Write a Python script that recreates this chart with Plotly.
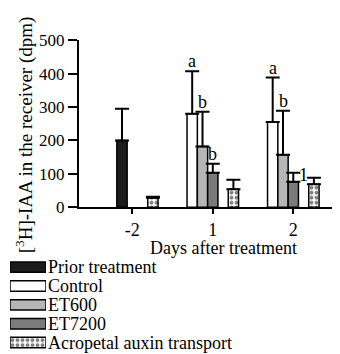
import plotly.graph_objects as go

# ---------------- data ----------------
days = ["-2", "1", "2"]
day_index = [0, 1, 2]

series_names = ["Prior treatment", "Control", "ET600", "ET7200", "Acropetal auxin transport"]

prior = [200, None, None]
prior_err = [95, None, None]

control = [None, 280, 255]
control_err = [None, 127, 133]
control_letters = ["", "a", "a"]

et600 = [None, 182, 157]
et600_err = [None, 104, 132]
et600_letters = ["", "b", "b"]

et7200 = [None, 103, 76]
et7200_err = [None, 27, 27]
et7200_letters = ["", "b", "1"]
et7200_letter_side = ["top", "top", "right"]

acro = [28, 54, 69]
acro_err = [3, 28, 19]

y_ticks = [0, 100, 200, 300, 400, 500]

# ---------------- styling ----------------
FONT = "Liberation Serif"
W, H = 340, 354
slot_w = 0.128          # bar width in category units
colors = {
    "Prior treatment": "#1c1c1c",
    "Control": "#ffffff",
    "ET600": "#b6b6b6",
    "ET7200": "#7b7b7b",
    "Acropetal auxin transport": "#ffffff",
}
slots = {"Prior treatment": 1, "Control": 0, "ET600": 1, "ET7200": 2,
         "Acropetal auxin transport": 4}
pattern_acro = dict(shape=".", fgcolor="black", bgcolor="white", size=5, solidity=0.45)

fig = go.Figure()

def add_series(name, vals, errs):
    off = (slots[name] - 2) * slot_w - slot_w / 2
    marker = dict(color=colors[name], line=dict(color="black", width=1.5))
    if name == "Acropetal auxin transport":
        marker["pattern"] = pattern_acro
    fig.add_trace(go.Bar(
        x=day_index, y=vals, name=name, width=slot_w, offset=off,
        marker=marker, showlegend=False,
        error_y=dict(type="data", array=errs, symmetric=False,
                     arrayminus=[0] * len(errs), color="black",
                     thickness=2, width=7),
        xaxis="x", yaxis="y",
    ))

add_series("Prior treatment", prior, prior_err)
add_series("Control", control, control_err)
add_series("ET600", et600, et600_err)
add_series("ET7200", et7200, et7200_err)
add_series("Acropetal auxin transport", acro, acro_err)

# significance letters
def add_letters(name, vals, errs, letters, sides=None):
    for i, (v, e, l) in enumerate(zip(vals, errs, letters)):
        if not l:
            continue
        side = sides[i] if sides else "top"
        xc = day_index[i] + (slots[name] - 2) * slot_w
        if side == "top":
            fig.add_annotation(x=xc, y=v + e, xref="x", yref="y", text=l,
                               showarrow=False, yanchor="bottom", xanchor="center",
                               yshift=-2, font=dict(family=FONT, size=18, color="black"))
        else:
            fig.add_annotation(x=xc, y=v + e, xref="x", yref="y", text=l,
                               showarrow=False, yanchor="middle", xanchor="left",
                               xshift=4, yshift=-2,
                               font=dict(family=FONT, size=18, color="black"))

add_letters("Control", control, control_err, control_letters)
add_letters("ET600", et600, et600_err, et600_letters)
add_letters("ET7200", et7200, et7200_err, et7200_letters, et7200_letter_side)

# ---------------- legend built as swatches on a side axis ----------------
for name in series_names:
    marker = dict(color=colors[name], line=dict(color="black", width=1.5))
    if name == "Acropetal auxin transport":
        marker["pattern"] = pattern_acro
    fig.add_trace(go.Bar(
        x=[1], y=[name], orientation="h", marker=marker, showlegend=False,
        xaxis="x2", yaxis="y2", hoverinfo="skip",
    ))

# ---------------- layout ----------------
px_per_cat = 80.5
x_left_px, x_right_px, tick0_px = 71, 340, 124.3
y_bottom_px, y_top_px = 201, 24.5

fig.update_layout(
    width=W, height=H,
    margin=dict(l=0, r=0, t=0, b=0),
    paper_bgcolor="white", plot_bgcolor="white",
    barmode="overlay",
    bargap=0.45,
    showlegend=False,
    font=dict(family=FONT, color="black", size=17),
    xaxis=dict(
        domain=[x_left_px / W, x_right_px / W],
        range=[-(tick0_px - x_left_px) / px_per_cat, (x_right_px - tick0_px) / px_per_cat],
        tickmode="array", tickvals=day_index, ticktext=days,
        ticks="outside", ticklen=5, tickwidth=2, tickcolor="black",
        showline=True, linecolor="black", linewidth=2,
        showgrid=False, zeroline=False,
        tickfont=dict(family=FONT, size=18, color="black"),
        anchor="y",
    ),
    yaxis=dict(
        domain=[(H - y_bottom_px) / H, (H - y_top_px) / H],
        range=[0, 500], tickvals=y_ticks,
        ticks="outside", ticklen=9, tickwidth=2, tickcolor="black",
        showline=True, linecolor="black", linewidth=2,
        showgrid=False, zeroline=False,
        tickfont=dict(family=FONT, size=17, color="black"),
        anchor="x",
    ),
    xaxis2=dict(domain=[2 / W, 38 / W], range=[0, 1], visible=False, anchor="y2"),
    yaxis2=dict(
        domain=[0, (H - 254.3) / H],
        categoryorder="array", categoryarray=series_names[::-1],
        tickmode="array", tickvals=series_names, ticktext=series_names,
        side="right", anchor="x2", showgrid=False, zeroline=False,
        showline=False, ticks="", ticklabelstandoff=1,
        tickfont=dict(family=FONT, size=18, color="black"),
    ),
)

# axis titles
fig.add_annotation(
    x=16 / W, y=(H - 125) / H, xref="paper", yref="paper",
    text="[<sup>3</sup>H]-IAA in the receiver (dpm)", textangle=-90,
    showarrow=False, xanchor="center", yanchor="middle",
    font=dict(family=FONT, size=19, color="black"),
)
fig.add_annotation(
    x=215 / W, y=(H - 244) / H, xref="paper", yref="paper",
    text="Days after treatment", showarrow=False,
    xanchor="center", yanchor="middle",
    font=dict(family=FONT, size=18, color="black"),
)

fig.write_html("out.html")
